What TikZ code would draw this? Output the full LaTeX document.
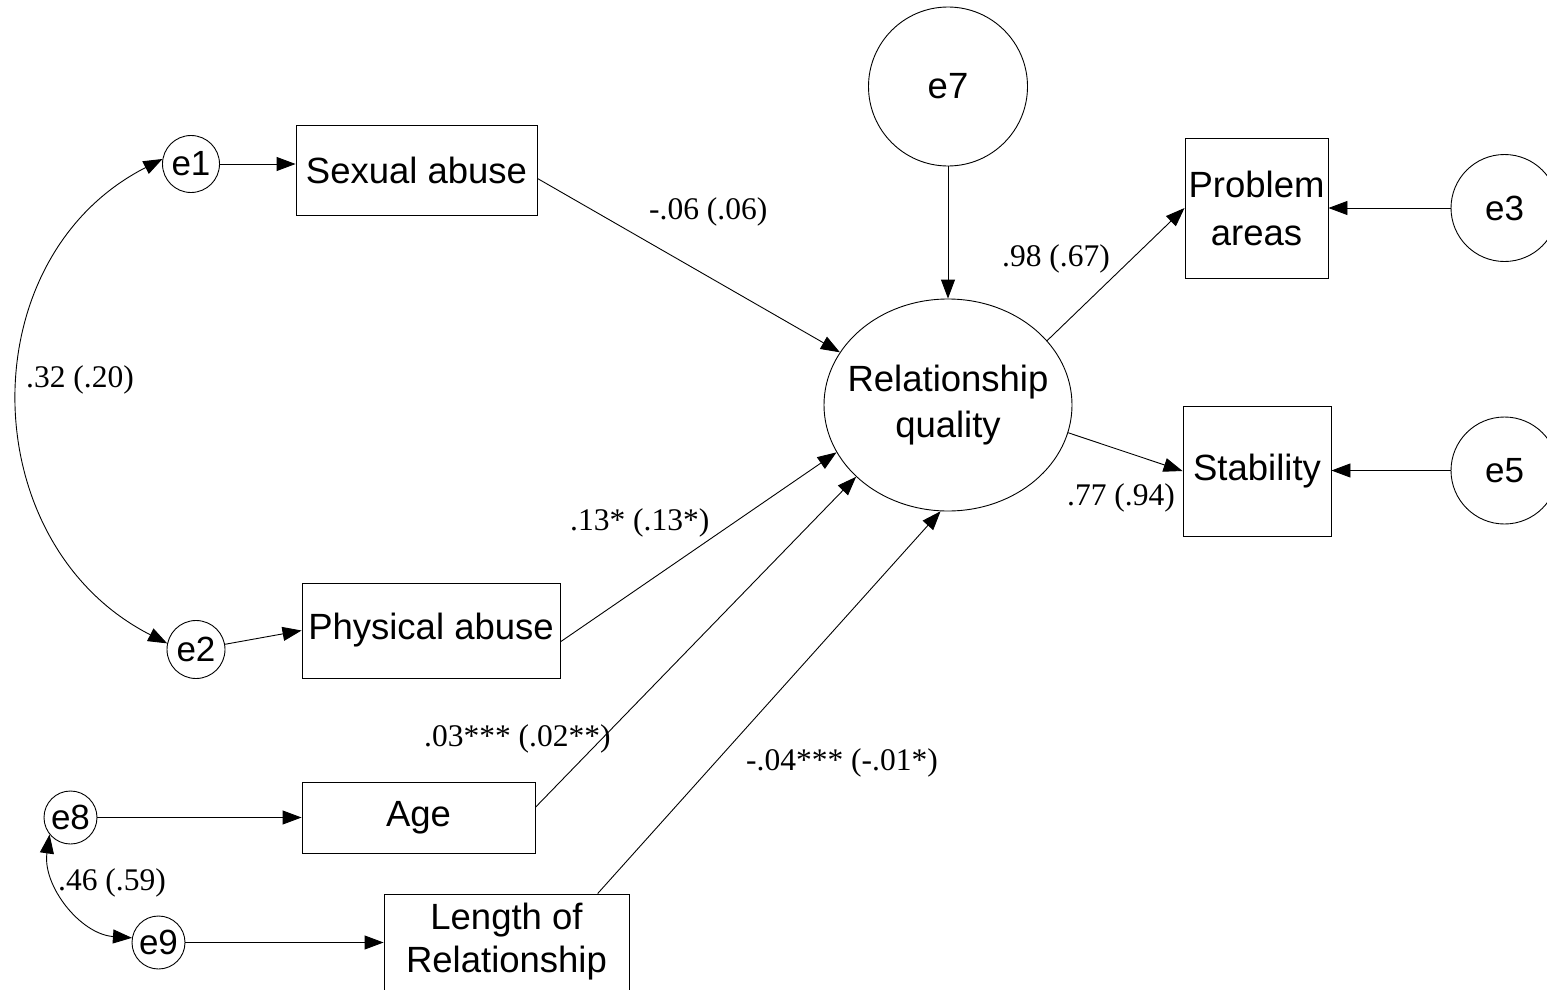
\documentclass[tikz,border=0pt]{standalone}
\usepackage{fontspec}
\setmainfont{Liberation Serif}
\setsansfont{Liberation Sans}
\usetikzlibrary{arrows.meta,shapes.geometric}
\tikzset{
  arr/.style={-{Triangle[length=19pt,width=14pt]}, line width=0.9pt},
  darr/.style={{Triangle[length=19pt,width=14pt]}-{Triangle[length=19pt,width=14pt]}, line width=0.9pt},
  box/.style={draw, line width=0.9pt, rectangle, inner sep=0pt, align=center,
    font=\sffamily\fontsize{36.5}{46}\selectfont},
  ecirc/.style={draw, line width=0.9pt, circle, inner sep=0pt,
    font=\sffamily\fontsize{35}{42}\selectfont},
  lab/.style={inner sep=0pt, anchor=west, font=\rmfamily\fontsize{31.5}{38}\selectfont},
}
\begin{document}
\begin{tikzpicture}[x=1pt,y=-1pt]
\useasboundingbox (0,0) rectangle (1547,990);
\fill[white] (0,0) rectangle (1547,990);
\clip (0,0) rectangle (1547,990);

% observed variables
\node[box, minimum width=241pt, minimum height=90pt] (sex) at (416.5,170) {Sexual abuse};
\node[box, minimum width=258pt, minimum height=95pt] (phys) at (431,630.5) {Physical abuse};
\node[box, minimum width=233pt, minimum height=71pt] (age) at (418.5,817.5) {Age};
\node[box, minimum width=245pt, minimum height=96pt, font=\sffamily\fontsize{36.5}{43}\selectfont] (len) at (506.5,942) {Length of\\Relationship};
\node[box, minimum width=143pt, minimum height=140pt, font=\sffamily\fontsize{36.5}{48}\selectfont] (prob) at (1256.5,208) {Problem\\areas};
\node[box, minimum width=148pt, minimum height=130pt] (stab) at (1257,471) {Stability};

% latent variable
\node[draw, line width=0.9pt, ellipse, inner xsep=-16pt, inner ysep=0pt, minimum width=248pt, minimum height=212pt,
  align=center, font=\sffamily\fontsize{36.5}{46}\selectfont] (rq) at (948,405) {Relationship\\quality};

% error terms
\node[ecirc, minimum size=57pt] (e1) at (191,164) {e1};
\node[ecirc, minimum size=58pt] (e2) at (196,649.5) {e2};
\node[ecirc, minimum size=53pt] (e8) at (70.5,817.5) {e8};
\node[ecirc, minimum size=53pt] (e9) at (158.5,942.5) {e9};
\node[ecirc, minimum size=159pt, font=\sffamily\fontsize{36.5}{42}\selectfont] (e7) at (948,86.5) {e7};
\node[ecirc, minimum size=107pt] (e3) at (1504.5,208) {e3};
\node[ecirc, minimum size=107pt] (e5) at (1504.5,470.5) {e5};

% error arrows
\draw[arr] (e1) -- (e1 -| sex.west);
\draw[arr] (e2) -- (phys.west);
\draw[arr] (e8) -- (e8 -| age.west);
\draw[arr] (e9) -- (e9 -| len.west);
\draw[arr] (e7) -- (rq);
\draw[arr] (e3) -- (e3 -| prob.east);
\draw[arr] (e5) -- (e5 -| stab.east);

% covariances
\draw[darr] (e1.170) to[out=207, in=153, looseness=1.15] (e2.168);
\draw[darr] (e8.219) to[out=262, in=176, looseness=1] (e9.170);

% structural paths
\draw[arr] (sex.-4) -- (rq.154);
\draw[arr] (phys.-5.5) -- (rq.203);
\draw[arr] (age.5) -- (rq.218);
\draw[arr] (len.28.5) -- (rq.266);
\draw[arr] (rq.33) -- (prob.west);
\draw[arr] (rq.-13) -- (stab.west);

% labels
\node[lab] (l1) at (26,380) {.32 (.20)};
\node[lab] (l2) at (649,212) {-.06 (.06)};
\node[lab] (l3) at (570,523) {.13* (.13*)};
\node[lab] (l4) at (424,739) {.03*** (.02**)};
\node[lab] (l5) at (746,763) {-.04*** (-.01*)};
\node[lab] (l6) at (1002,259) {.98 (.67)};
\node[lab] (l7) at (1067,498) {.77 (.94)};
\node[lab] (l8) at (58,883) {.46 (.59)};
\end{tikzpicture}
\end{document}
